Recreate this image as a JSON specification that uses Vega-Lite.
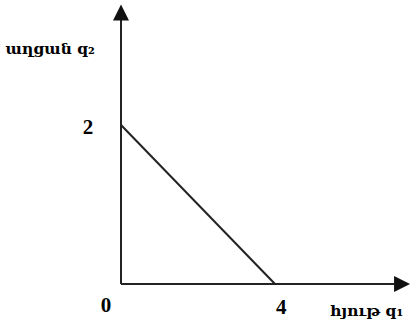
{
  "$schema": "https://vega.github.io/schema/vega-lite/v6.json",
  "width": 416,
  "height": 328,
  "autosize": {"type": "none"},
  "padding": 0,
  "background": "white",
  "config": {"view": {"stroke": null}},
  "datasets": {
    "axes": [
      {"name": "y axis", "x": 0, "y": 0, "x2": 0, "y2": 3.35},
      {"name": "x axis", "x": 0, "y": 0, "x2": 7.1, "y2": 0}
    ],
    "budget": [
      {"q1": 0, "q2": 2},
      {"q1": 4, "q2": 0}
    ],
    "arrows": [
      {"dir": "up", "x": 0, "y": 3.415},
      {"dir": "right", "x": 7.3, "y": 0}
    ],
    "labels": [
      {"text": "աղցան q₂", "x": -3.0, "y": 2.95, "kind": "axis"},
      {"text": "հյութ q₁", "x": 5.43, "y": -0.345, "kind": "axis"},
      {"text": "2", "x": -0.86, "y": 1.96, "kind": "tick"},
      {"text": "0", "x": -0.39, "y": -0.28, "kind": "tick"},
      {"text": "4", "x": 4.16, "y": -0.3, "kind": "tick"}
    ]
  },
  "encoding": {},
  "layer": [
    {
      "data": {"name": "axes"},
      "mark": {"type": "rule", "color": "#222222", "strokeWidth": 2},
      "encoding": {
        "x": {"field": "x", "type": "quantitative", "scale": {"domain": [-3.1429, 7.6623], "nice": false, "zero": false}, "axis": null},
        "y": {"field": "y", "type": "quantitative", "scale": {"domain": [-0.5535, 3.5723], "nice": false, "zero": false}, "axis": null},
        "x2": {"field": "x2"},
        "y2": {"field": "y2"}
      }
    },
    {
      "data": {"name": "budget"},
      "mark": {"type": "line", "color": "#222222", "strokeWidth": 2},
      "encoding": {
        "x": {"field": "q1", "type": "quantitative", "scale": {"domain": [-3.1429, 7.6623], "nice": false, "zero": false}, "axis": null},
        "y": {"field": "q2", "type": "quantitative", "scale": {"domain": [-0.5535, 3.5723], "nice": false, "zero": false}, "axis": null}
      }
    },
    {
      "data": {"name": "arrows"},
      "mark": {"type": "point", "filled": true, "color": "#111111", "opacity": 1, "size": 256},
      "encoding": {
        "x": {"field": "x", "type": "quantitative", "scale": {"domain": [-3.1429, 7.6623], "nice": false, "zero": false}, "axis": null},
        "y": {"field": "y", "type": "quantitative", "scale": {"domain": [-0.5535, 3.5723], "nice": false, "zero": false}, "axis": null},
        "shape": {"field": "dir", "type": "nominal", "scale": {"domain": ["up", "right"], "range": ["M0,-1L1,1L-1,1Z", "M1,0L-1,1L-1,-1Z"]}, "legend": null}
      }
    },
    {
      "data": {"name": "labels"},
      "transform": [{"filter": "datum.kind === 'axis'"}],
      "mark": {"type": "text", "font": "DejaVu Serif", "fontWeight": "bold", "fontSize": 15.5, "color": "black", "align": "left", "baseline": "middle"},
      "encoding": {
        "x": {"field": "x", "type": "quantitative", "scale": {"domain": [-3.1429, 7.6623], "nice": false, "zero": false}, "axis": null},
        "y": {"field": "y", "type": "quantitative", "scale": {"domain": [-0.5535, 3.5723], "nice": false, "zero": false}, "axis": null},
        "text": {"field": "text"}
      }
    },
    {
      "data": {"name": "labels"},
      "transform": [{"filter": "datum.kind === 'tick'"}],
      "mark": {"type": "text", "font": "Liberation Serif", "fontWeight": "bold", "fontSize": 21, "color": "black", "align": "center", "baseline": "middle"},
      "encoding": {
        "x": {"field": "x", "type": "quantitative", "scale": {"domain": [-3.1429, 7.6623], "nice": false, "zero": false}, "axis": null},
        "y": {"field": "y", "type": "quantitative", "scale": {"domain": [-0.5535, 3.5723], "nice": false, "zero": false}, "axis": null},
        "text": {"field": "text"}
      }
    }
  ]
}
